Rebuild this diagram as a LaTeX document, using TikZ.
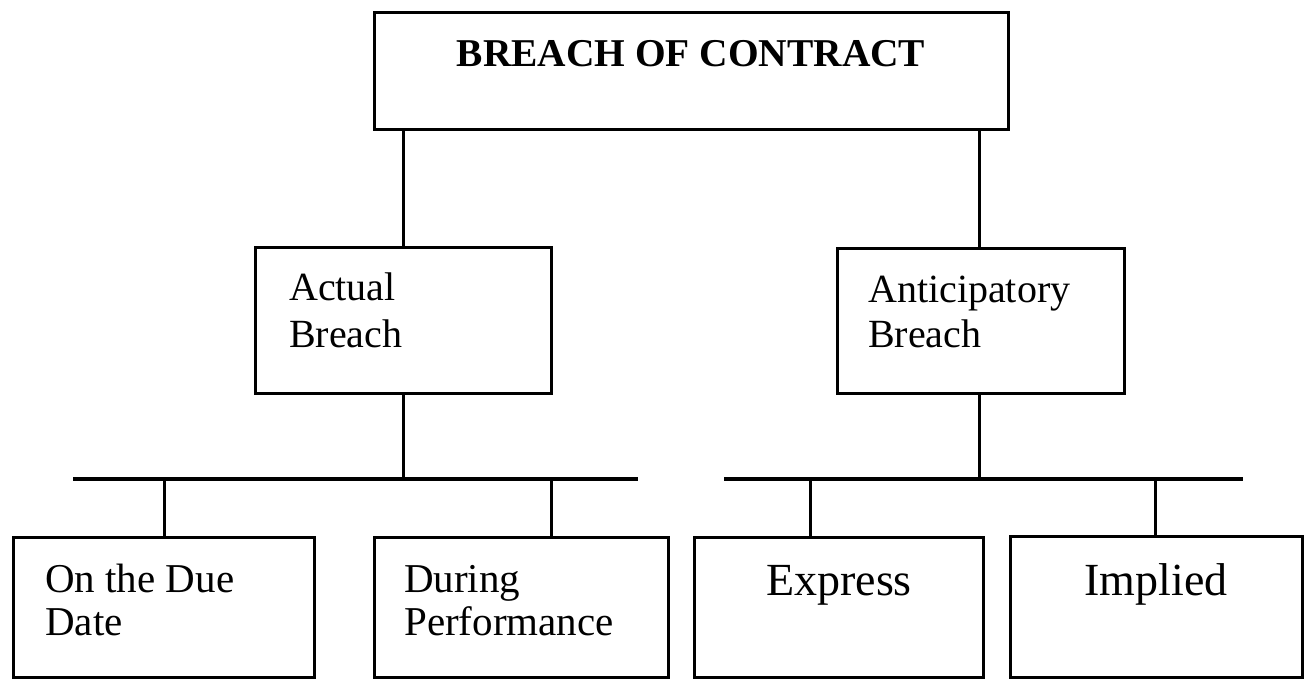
\documentclass[tikz,border=0pt]{standalone}
\usepackage{fontspec}
\setmainfont{Liberation Serif}
\begin{document}
\begin{tikzpicture}[x=1pt,y=-1pt,
  box/.style={draw=black, line width=3pt, fill=none},
  conn/.style={draw=black, line width=3pt},
  bar/.style={draw=black, line width=3.8pt},
  lbl/.style={anchor=base west, inner sep=0pt, font=\fontsize{40}{47}\selectfont},
  lblb/.style={anchor=base west, inner sep=0pt, font=\fontsize{41}{47}\selectfont},
  lblc/.style={anchor=base, inner sep=0pt, font=\fontsize{46}{52}\selectfont},
  ttl/.style={anchor=base, inner sep=0pt, font=\fontsize{39.4}{46}\selectfont\bfseries}
]
\useasboundingbox (0,0) rectangle (1305,679);
\fill[white] (0,0) rectangle (1305,679);
\clip (0,0) rectangle (1305,679);

% boxes
\path[box] (374,13) rectangle (1008,130);
\coordinate (topS) at (691,130);
\node[ttl] (ttl) at (691,67) {BREACH OF CONTRACT};

\path[box] (255,247) rectangle (551,393);
\coordinate (actN) at (403,247);
\coordinate (actS) at (403,393);
\node[lbl] (act1) at (289,300) {Actual};
\node[lbl] (act2) at (289,347) {Breach};

\path[box] (837,248) rectangle (1124,393);
\coordinate (antN) at (979,248);
\coordinate (antS) at (979,393);
\node[lbl] (ant1) at (868,302) {Anticipatory};
\node[lbl] (ant2) at (868,347) {Breach};

\path[box] (13,537) rectangle (314,677);
\coordinate (b1N) at (164,537);
\node[lblb] (b1a) at (45,592) {On the Due};
\node[lblb] (b1b) at (45,635) {Date};

\path[box] (374,537) rectangle (668,677);
\coordinate (b2N) at (551,537);
\node[lblb] (b2a) at (404,592) {During};
\node[lblb] (b2b) at (404,635) {Performance};

\path[box] (694,537) rectangle (983,677);
\coordinate (b3N) at (810,537);
\node[lblc] (b3) at (839,595) {Express};

\path[box] (1010,536) rectangle (1302,677);
\coordinate (b4N) at (1155,536);
\node[lblc] (b4) at (1156,595) {Implied};

% bars
\coordinate (barLw) at (73,479);
\coordinate (barLe) at (638,479);
\coordinate (barRw) at (724,479);
\coordinate (barRe) at (1243,479);
\path[bar] (barLw) -- (barLe);
\path[bar] (barRw) -- (barRe);

% connectors
\path[conn] (actN |- topS) -- (actN);
\path[conn] (antN |- topS) -- (antN);
\path[conn] (actS) -- (actS |- barLw);
\path[conn] (antS) -- (antS |- barRw);
\path[conn] (b1N |- barLw) -- (b1N);
\path[conn] (b2N |- barLw) -- (b2N);
\path[conn] (b3N |- barRw) -- (b3N);
\path[conn] (b4N |- barRw) -- (b4N);
\end{tikzpicture}
\end{document}
